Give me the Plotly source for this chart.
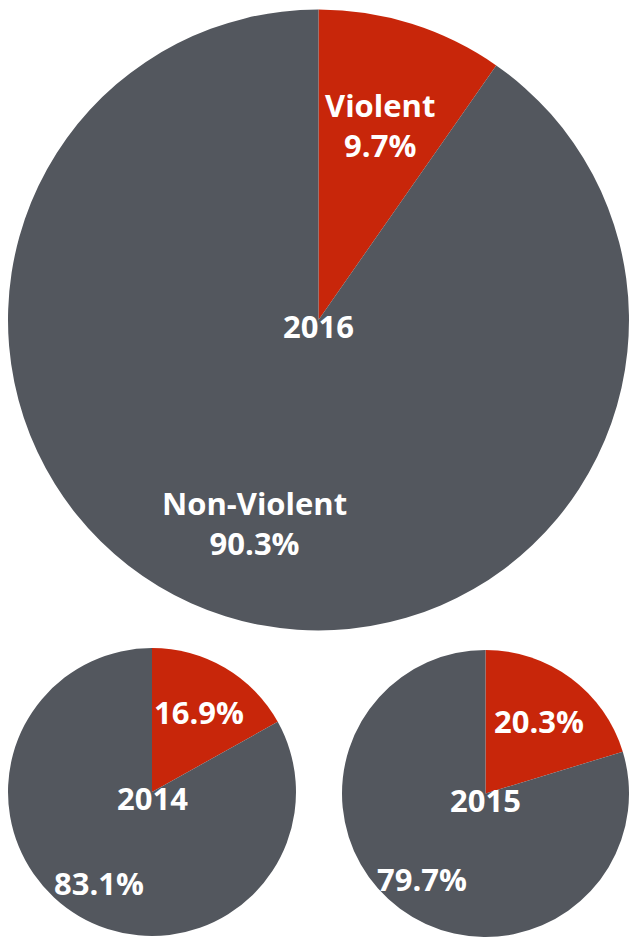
import math
import plotly.graph_objects as go

W, H = 629, 938

categories = ["Violent", "Non-Violent"]
years = ["2016", "2014", "2015"]
violent = [9.7, 16.9, 20.3]
non_violent = [90.3, 83.1, 79.7]
show_names = [True, False, False]

colors = ["#C8260A", "#53575E"]
FONT = "Open Sans"
FSIZE = 31

# pie domains in pixels (left, top, right, bottom)
boxes = [(8, 9, 629, 631), (8, 648, 296, 936), (342, 650, 629, 937)]
label_r = [(0.66, 0.685), (0.645, 0.73), (0.63, 0.74)]

fig = go.Figure()
annotations = []
for i, year in enumerate(years):
    l, t, r, b = boxes[i]
    dom_x = [l / W, r / W]
    dom_y = [1 - b / H, 1 - t / H]
    vals = [violent[i], non_violent[i]]
    fig.add_trace(go.Pie(
        labels=categories, values=vals, sort=False, direction="clockwise",
        rotation=0, marker=dict(colors=colors, line=dict(width=0)),
        textinfo="none", hoverinfo="label+percent", showlegend=False,
        domain=dict(x=dom_x, y=dom_y),
    ))
    cx = (l + r) / 2
    cy = (t + b) / 2
    rad = min(r - l, b - t) / 2
    total = sum(vals)
    start = 0.0
    for j, v in enumerate(vals):
        ang = (start + v / total * 180.0) * math.pi / 180.0
        start += v / total * 360.0
        rr = label_r[i][j] * rad
        px = cx + rr * math.sin(ang)
        py = cy - rr * math.cos(ang)
        txt = f"<b>{vals[j]:.1f}%</b>"
        if show_names[i]:
            txt = f"<b>{categories[j]}</b><br><b>{vals[j]:.1f}%</b>"
        annotations.append(dict(
            x=px / W, y=1 - py / H, xref="paper", yref="paper",
            text=txt, showarrow=False, align="center",
            font=dict(family=FONT, size=FSIZE, color="white"),
            xanchor="center", yanchor="middle",
        ))
    annotations.append(dict(
        x=cx / W, y=1 - (cy + 6) / H, xref="paper", yref="paper",
        text=f"<b>{year}</b>", showarrow=False,
        font=dict(family=FONT, size=FSIZE, color="white"),
        xanchor="center", yanchor="middle",
    ))

fig.update_layout(
    width=W, height=H, margin=dict(l=0, r=0, t=0, b=0),
    paper_bgcolor="white", plot_bgcolor="white",
    annotations=annotations,
)
fig.write_html("out.html", config={"displayModeBar": False},
               post_script="document.body.style.margin='0';")
